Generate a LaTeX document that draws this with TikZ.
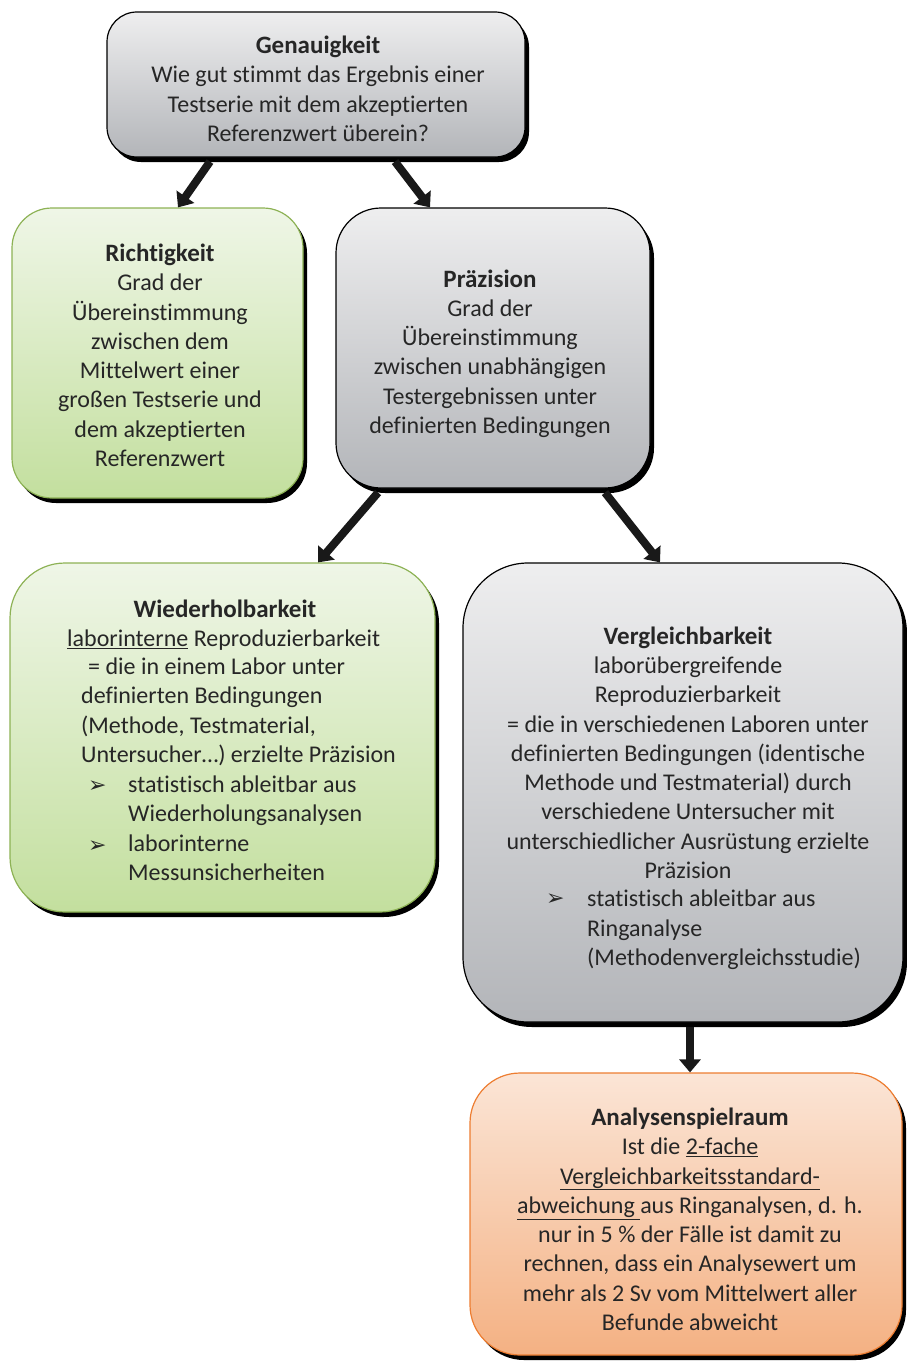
\documentclass[tikz,border=0pt]{standalone}
\usepackage{fontspec}
\setmainfont{Carlito}[Ligatures=NoCommon]
\newfontfamily\dv{DejaVu Sans}
\usetikzlibrary{arrows.meta,shadows,calc}
\definecolor{gtop}{HTML}{EEEEEF}
\definecolor{gbot}{HTML}{B3B5B9}
\definecolor{grtop}{HTML}{EFF6E7}
\definecolor{grbot}{HTML}{C3DF9E}
\definecolor{grline}{HTML}{8DB255}
\definecolor{otop}{HTML}{FBE5D6}
\definecolor{obot}{HTML}{F4B183}
\definecolor{oline}{HTML}{ED7D31}
\definecolor{txt}{HTML}{262626}
\newcommand{\ttl}[1]{{\fontsize{25}{29.3}\selectfont\bfseries #1}}
\newcommand{\blt}{{\dv\fontsize{22}{22}\selectfont ➢}}
\tikzset{
  pbox/.style={rectangle, inner sep=0pt, line width=1.2pt,
    drop shadow={shadow xshift=4pt, shadow yshift=-5pt, fill=black, opacity=1}},
  graybox/.style={pbox, draw=black, top color=gtop, bottom color=gbot},
  greenbox/.style={pbox, draw=grline, top color=grtop, bottom color=grbot},
  orangebox/.style={pbox, draw=oline, top color=otop, bottom color=obot},
  tx/.style={font=\fontsize{24}{29.3}\selectfont, text=txt, inner sep=0pt, align=center, anchor=base},
  tl/.style={font=\fontsize{24}{29.3}\selectfont, text=txt, inner sep=0pt, align=left, anchor=base west},
  arr/.style={line width=8pt, draw=black!90, -{Triangle[length=13pt,width=21pt]}}
}
\begin{document}
\begin{tikzpicture}[x=1pt,y=-1pt]
\useasboundingbox (0,0) rectangle (907,1362);
\node[graybox, rounded corners=30pt, minimum width=418pt, minimum height=145pt] (gen) at (316,84.5) {};
\node[greenbox, rounded corners=40pt, minimum width=291pt, minimum height=290pt] (richt) at (157.5,353) {};
\node[graybox, rounded corners=45pt, minimum width=314pt, minimum height=280pt] (praez) at (493,348) {};
\node[greenbox, rounded corners=55pt, minimum width=425pt, minimum height=349pt] (wied) at (222.5,737.5) {};
\node[graybox, rounded corners=65pt, minimum width=440pt, minimum height=459pt] (vergl) at (683,792.5) {};
\node[orangebox, rounded corners=50pt, minimum width=432pt, minimum height=282pt] (analy) at (686,1214) {};

\draw[arr] ($(gen.south)+(-106,4)$) -- ($(richt.north)+(20.5,0)$);
\draw[arr] ($(gen.south)+(79,4)$) -- ($(praez.north)+(-63,0)$);
\draw[arr] ($(praez.south)+(-115,4)$) -- ($(wied.north)+(95.5,0)$);
\draw[arr] ($(praez.south)+(112,4)$) -- ($(vergl.north)+(-23,0)$);
\draw[arr] ($(vergl.south)+(7,4)$) -- ($(analy.north)+(4,0)$);

\node[tx] (tgen) at (318,141.5) {\ttl{Genauigkeit}\\Wie gut stimmt das Ergebnis einer\\Testserie mit dem akzeptierten\\Referenzwert überein?};
\node[tx] (trich) at (160,466.5) {\ttl{Richtigkeit}\\Grad der\\Übereinstimmung\\zwischen dem\\Mittelwert einer\\großen Testserie und\\dem akzeptierten\\Referenzwert};
\node[tx] (tpra) at (490,433.5) {\ttl{Präzision}\\Grad der\\Übereinstimmung\\zwischen unabhängigen\\Testergebnissen unter\\definierten Bedingungen};

\node[tx] (twtit) at (225,617) {\ttl{Wiederholbarkeit}};
\node[tl] (tw1) at (67,646.5) {\underline{laborinterne} Reproduzierbarkeit};
\node[tl] (tw2) at (81,762.5) {\hspace{7pt}= die in einem Labor unter\\definierten Bedingungen\\(Methode, Testmaterial,\\Untersucher…) erzielte Präzision};
\node[tl] (twb1) at (88,792.5) {\blt};
\node[tl] (tw3) at (128,821.5) {statistisch ableitbar aus\\Wiederholungsanalysen};
\node[tl] (twb2) at (88,852.5) {\blt};
\node[tl] (tw4) at (128,880.5) {laborinterne\\Messunsicherheiten};

\node[tx] (tver) at (688,878.5) {\ttl{Vergleichbarkeit}\\laborübergreifende\\Reproduzierbarkeit\\= die in verschiedenen Laboren unter\\definierten Bedingungen (identische\\Methode und Testmaterial) durch\\verschiedene Untersucher mit\\unterschiedlicher Ausrüstung erzielte\\Präzision};
\node[tl] (tvb) at (546,905.5) {\blt};
\node[tl] (tv2) at (587,965.5) {statistisch ableitbar aus\\Ringanalyse\\(Methodenvergleichsstudie)};

\node[tx] (tana) at (690,1330.5) {\ttl{Analysenspielraum}\\Ist die \underline{2-fache}\\\underline{Vergleichbarkeitsstandard-}\\\underline{abweichung }aus Ringanalysen, d. h.\\nur in 5 \% der Fälle ist damit zu\\rechnen, dass ein Analysewert um\\mehr als 2 Sv vom Mittelwert aller\\Befunde abweicht};
\end{tikzpicture}
\end{document}
